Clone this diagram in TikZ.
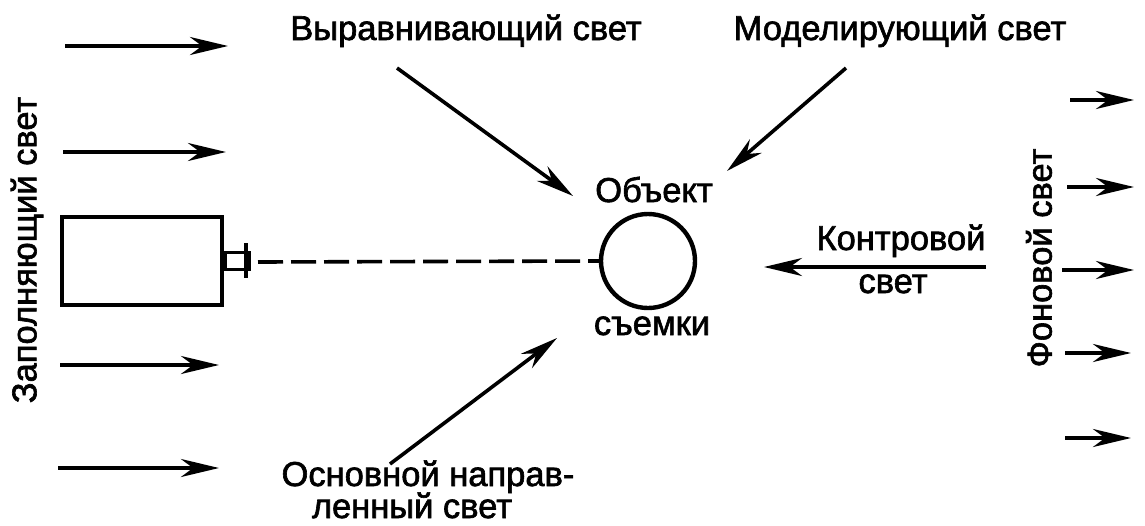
\documentclass[tikz,border=0pt]{standalone}
\usepackage{fontspec}
\setmainfont[FakeBold=1.8]{Liberation Sans}
\usetikzlibrary{arrows.meta}
\begin{document}
\begin{tikzpicture}[x=1pt,y=-1pt,
  ln/.style={line width=3.6pt},
  ray/.style={ln,-{Stealth[length=38pt,width=18pt,inset=12pt]}},
  lbl/.style={font=\fontsize{34.5}{38}\selectfont, inner sep=0pt},
  bl/.style={lbl, anchor=base}
]
\useasboundingbox (0,0) rectangle (1145,525);
% camera
\node[draw, ln, minimum width=160pt, minimum height=88pt, inner sep=0pt] (cam) at (142,261) {};
\node[draw, ln, minimum width=24pt, minimum height=17pt, inner sep=0pt, anchor=west] (lens) at (cam.east) {};
\coordinate (bart) at (246,243);
\coordinate (barb) at (246,278);
\draw[line width=4.8pt] (bart) -- (barb);
% object
\node[draw, line width=4.4pt, circle, minimum size=94pt, inner sep=0pt] (obj) at (648,261) {};
\node[bl] (objt) at (654,202) {Объект};
\node[bl] (objb) at (652,335) {съемки};
\coordinate (dashs) at (258,262);
\draw[ln, dash pattern=on 25pt off 8pt] (dashs) -- (obj.west);
% fill light
\node[lbl, rotate=90] (fill) at (27,250) {Заполняющий свет};
\coordinate (f1s) at (65,46);  \coordinate (f1e) at (228,46);
\coordinate (f2s) at (63,152); \coordinate (f2e) at (226,152);
\coordinate (f3s) at (60,365); \coordinate (f3e) at (219,365);
\coordinate (f4s) at (58,468); \coordinate (f4e) at (219,468);
\draw[ray] (f1s) -- (f1e);
\draw[ray] (f2s) -- (f2e);
\draw[ray] (f3s) -- (f3e);
\draw[ray] (f4s) -- (f4e);
% background light
\node[lbl, rotate=90] (bg) at (1039,258) {Фоновой свет};
\coordinate (b1s) at (1070,100); \coordinate (b1e) at (1134,100);
\coordinate (b2s) at (1067,187); \coordinate (b2e) at (1134,187);
\coordinate (b3s) at (1062,270); \coordinate (b3e) at (1134,270);
\coordinate (b4s) at (1065,353); \coordinate (b4e) at (1131,353);
\coordinate (b5s) at (1065,438); \coordinate (b5e) at (1131,438);
\draw[ray] (b1s) -- (b1e);
\draw[ray] (b2s) -- (b2e);
\draw[ray] (b3s) -- (b3e);
\draw[ray] (b4s) -- (b4e);
\draw[ray] (b5s) -- (b5e);
% back light
\node[bl] (kontr) at (901,250) {Контровой};
\node[bl] (kontr2) at (893,293) {свет};
\coordinate (ks) at (986,267); \coordinate (ke) at (764,267);
\draw[ray] (ks) -- (ke);
% top labels
\node[bl] (vyr) at (466,40) {Выравнивающий свет};
\node[bl] (mod) at (900,40) {Моделирующий свет};
\coordinate (vs) at (397,68); \coordinate (ve) at (573,196);
\coordinate (ms) at (846,68); \coordinate (me) at (727,171);
\draw[ray] (vs) -- (ve);
\draw[ray] (ms) -- (me);
% main light
\node[bl] (main) at (428,486) {Основной направ-};
\node[bl] (main2) at (412,518) {ленный свет};
\coordinate (ss) at (390,464); \coordinate (se) at (557,338);
\draw[ray] (ss) -- (se);
\end{tikzpicture}
\end{document}
